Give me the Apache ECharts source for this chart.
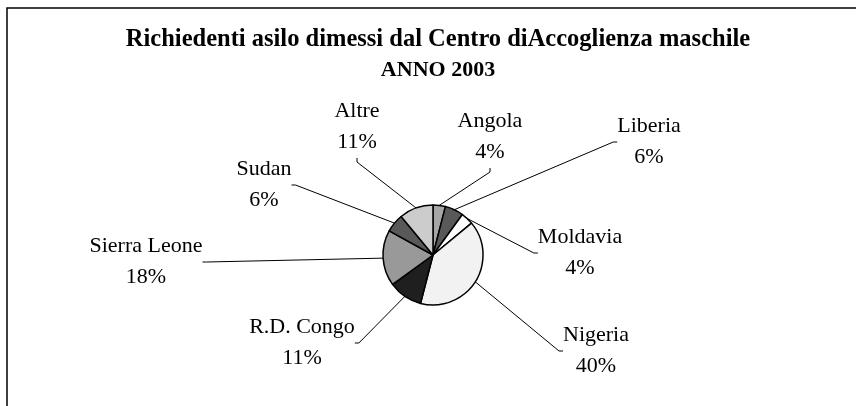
<!DOCTYPE html>
<html>
<head>
<meta charset="utf-8">
<script src="https://cdn.jsdelivr.net/npm/echarts@6/dist/echarts.min.js"></script>
<style>
  html, body { margin: 0; padding: 0; background: #fff; }
  #chart { width: 856px; height: 406px; }
</style>
</head>
<body>
<div id="chart"></div>
<script>
// dati
const countries = ['Angola', 'Liberia', 'Moldavia', 'Nigeria', 'R.D. Congo', 'Sierra Leone', 'Sudan', 'Altre'];
const shares = [4, 6, 4, 40, 11, 18, 6, 11];
const sliceColors = ['#a6a6a6', '#595959', '#ffffff', '#f2f2f2', '#1f1f1f', '#999999', '#595959', '#cccccc'];

// posizione delle etichette (centro del blocco di testo)
const labelPos = [
  [490, 137], [649, 142], [580, 253], [596, 351],
  [302, 343], [146, 262], [264, 185], [357, 127]
];

const font = '"Liberation Serif", "Times New Roman", serif';
const chart = echarts.init(document.getElementById('chart'));

chart.setOption({
  animation: false,
  backgroundColor: '#fff',
  title: {
    text: '{a|Richiedenti asilo dimessi dal Centro diAccoglienza maschile}\n{b|ANNO 2003}',
    left: 433,
    top: 20,
    textAlign: 'center',
    textStyle: {
      fontFamily: font,
      fontWeight: 'bold',
      color: '#000',
      rich: {
        a: { fontFamily: font, fontWeight: 'bold', fontSize: 24.5, lineHeight: 29, color: '#000' },
        b: { fontFamily: font, fontWeight: 'bold', fontSize: 22, lineHeight: 33, color: '#000' }
      }
    }
  },
  graphic: [{
    type: 'polyline',
    shape: { points: [[7, 406], [7, 8], [856, 8]] },
    style: { stroke: '#000', lineWidth: 1.5, fill: null }
  }],
  series: [{
    type: 'pie',
    center: [433, 255],
    radius: 50,
    startAngle: 90,
    clockwise: true,
    percentPrecision: 0,
    avoidLabelOverlap: false,
    itemStyle: { borderColor: '#000', borderWidth: 1.5 },
    label: {
      show: true,
      formatter: '{b}\n{d}%',
      fontFamily: font,
      fontSize: 22,
      lineHeight: 31,
      color: '#000',
      align: 'center'
    },
    labelLine: {
      show: true,
      length: 20,
      length2: 4,
      lineStyle: { color: '#000', width: 1 }
    },
    labelLayout: function (p) {
      const pos = labelPos[p.dataIndex];
      return {
        x: pos[0],
        y: pos[1],
        align: 'center',
        verticalAlign: 'middle'
      };
    },
    emphasis: { disabled: true },
    data: countries.map((name, i) => ({
      name: name,
      value: shares[i],
      itemStyle: { color: sliceColors[i] }
    }))
  }]
});
</script>
</body>
</html>
